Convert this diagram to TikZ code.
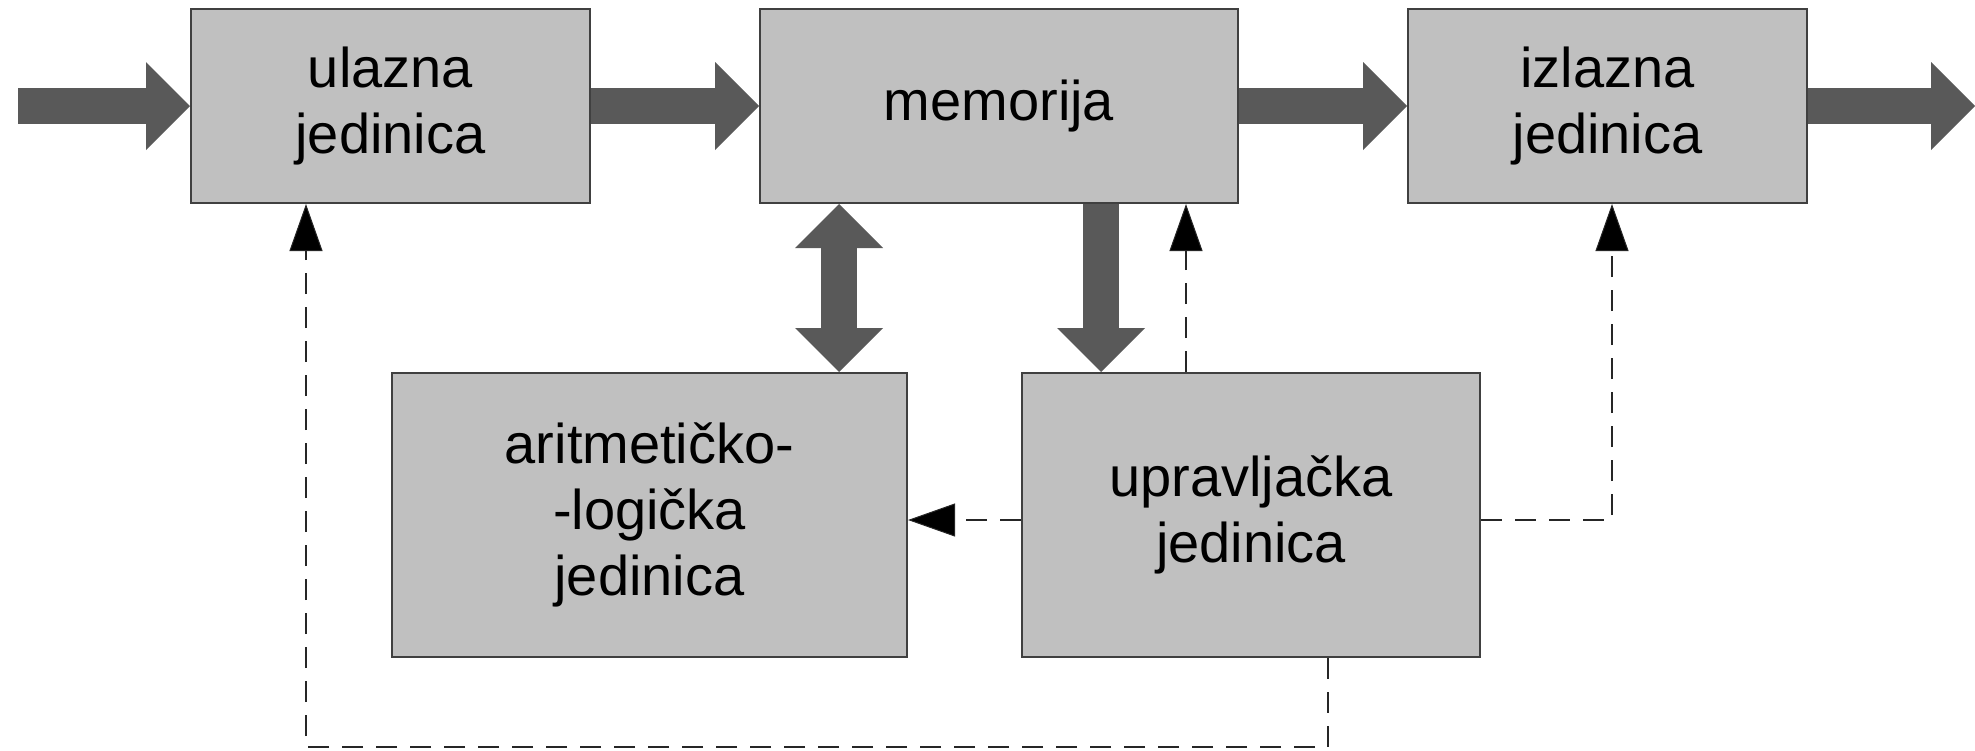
\documentclass[tikz,border=0pt]{standalone}
\usepackage{fontspec}
\setmainfont{Liberation Sans}
\usetikzlibrary{arrows.meta,calc}

\definecolor{boxgray}{HTML}{C0C0C0}
\definecolor{flowgray}{HTML}{595959}
\definecolor{edgegray}{HTML}{404040}

\tikzset{
  unitbox/.style={draw=edgegray, fill=boxgray, line width=1pt, align=center,
    inner sep=0pt, text=black,
    font=\fontsize{28pt}{32.8pt}\selectfont},
  fat/.style={draw=flowgray, line width=18pt,
    -{Triangle[length=22pt, width=44pt, line width=0pt, fill=flowgray]}},
  fatboth/.style={draw=flowgray, line width=18pt,
    {Triangle[length=22pt, width=44pt, line width=0pt, fill=flowgray]}-{Triangle[length=22pt, width=44pt, line width=0pt, fill=flowgray]}},
  ctrl/.style={draw=black!85, line width=1pt, dash pattern=on 10.5pt off 6.5pt,
    -{Triangle[length=23.5pt, width=16.5pt, fill=black, line width=0.5pt]}},
}

\begin{document}
\begin{tikzpicture}[x=0.5pt, y=-0.5pt]
  \useasboundingbox (0,0) rectangle (1975,750);

  % units
  \node[unitbox, minimum width=199.5pt, minimum height=97pt] (ul)  at (390.5,106) {ulazna\\jedinica};
  \node[unitbox, minimum width=239pt,   minimum height=97pt] (mem) at (999,106)   {memorija};
  \node[unitbox, minimum width=199.5pt, minimum height=97pt] (iz)  at (1607.5,106) {izlazna\\jedinica};
  \node[unitbox, minimum width=257.5pt, minimum height=142pt] (alu) at (649.5,515) {aritmetičko-\\-logička\\jedinica};
  \node[unitbox, minimum width=229pt,   minimum height=142pt] (upr) at (1251,515)  {upravljačka\\jedinica};

  % free ends and guide positions
  \coordinate (inS)  at (18,106);
  \coordinate (outE) at (1975,106);
  \coordinate (xbus) at (839,0);
  \coordinate (xdat) at (1101,0);
  \coordinate (xmem) at (1186,0);
  \coordinate (xout) at (1612,0);
  \coordinate (xbot) at (1328,0);
  \coordinate (xin)  at (306,0);
  \coordinate (ymid) at (0,520);
  \coordinate (ybot) at (0,747);

  % data flow
  \draw[fat] (inS) -- (ul.west);
  \draw[fat] (ul.east) -- (mem.west);
  \draw[fat] (mem.east) -- (iz.west);
  \draw[fat] (iz.east) -- (outE);
  \draw[fatboth] (mem.south -| xbus) -- (alu.north -| xbus);
  \draw[fat] (mem.south -| xdat) -- (upr.north -| xdat);

  % control signals
  \draw[ctrl] (upr.north -| xmem) -- (mem.south -| xmem);
  \draw[ctrl] (upr.west |- ymid) -- (alu.east |- ymid);
  \draw[ctrl] (upr.east |- ymid) -| (iz.south -| xout);
  \draw[ctrl] (upr.south -| xbot) -- (xbot |- ybot) -| (ul.south -| xin);
\end{tikzpicture}
\end{document}
